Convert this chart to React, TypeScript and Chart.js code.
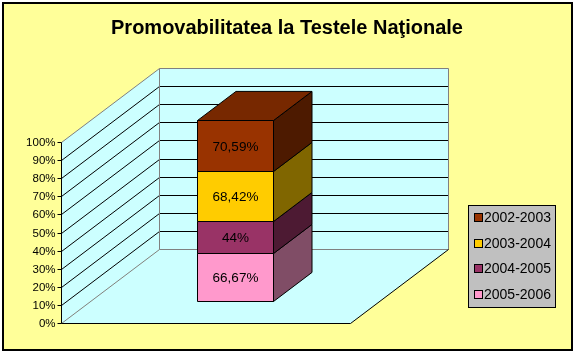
import React, { useEffect, useRef } from "react";
import { Chart, registerables } from "chart.js";

Chart.register(...registerables);

const TITLE = "Promovabilitatea la Testele Naţionale";
const CATEGORIES = ["Promovabilitate"];
// legend order (top of stack first)
const SERIES_NAMES = ["2002-2003", "2003-2004", "2004-2005", "2005-2006"];
const SERIES_VALUES = [70.59, 68.42, 44, 66.67];
const SERIES_COLORS = ["#993300", "#FFCC00", "#993366", "#FF99CC"];
const Y_TICK_STEP = 10;

const FONT = "'Liberation Sans', Arial, sans-serif";
const DX = 98;
const DY = -74;
const BAR_FRONT = 0.297;
const BAR_BACK = 0.69;
const WALL = "#CCFFFF";
const GRAY = "#808080";

function shade(hex: string, f: number) {
  const n = parseInt(hex.slice(1), 16);
  const r = Math.round(((n >> 16) & 255) * f);
  const g = Math.round(((n >> 8) & 255) * f);
  const b = Math.round((n & 255) * f);
  return `rgb(${r},${g},${b})`;
}

const fmt = (v: number) => String(v).replace(".", ",") + "%";

function poly(ctx: CanvasRenderingContext2D, pts: number[][], fill?: string, stroke?: string) {
  ctx.beginPath();
  ctx.moveTo(pts[0][0], pts[0][1]);
  for (let i = 1; i < pts.length; i++) ctx.lineTo(pts[i][0], pts[i][1]);
  ctx.closePath();
  if (fill) {
    ctx.fillStyle = fill;
    ctx.fill();
  }
  if (stroke) {
    ctx.strokeStyle = stroke;
    ctx.lineWidth = 1;
    ctx.stroke();
  }
}

function line(ctx: CanvasRenderingContext2D, pts: number[][], color: string) {
  ctx.beginPath();
  ctx.moveTo(pts[0][0], pts[0][1]);
  for (let i = 1; i < pts.length; i++) ctx.lineTo(pts[i][0], pts[i][1]);
  ctx.strokeStyle = color;
  ctx.lineWidth = 1;
  ctx.stroke();
}

const threeD = {
  id: "threeD",
  beforeDraw(chart: any) {
    const ctx = chart.ctx as CanvasRenderingContext2D;
    ctx.save();
    ctx.fillStyle = "#FFFFFF";
    ctx.fillRect(0, 0, chart.width, chart.height);
    ctx.fillStyle = "#FFFF99";
    ctx.fillRect(3, 3, 569, 347);
    ctx.strokeStyle = "#000000";
    ctx.lineWidth = 2;
    ctx.strokeRect(3, 3, 569, 347);
    // title
    ctx.fillStyle = "#000000";
    ctx.font = `bold 20px ${FONT}`;
    ctx.textAlign = "center";
    ctx.textBaseline = "alphabetic";
    ctx.fillText(TITLE, 287, 33.5);
    ctx.restore();
  },
  beforeDatasetsDraw(chart: any) {
    const ctx = chart.ctx as CanvasRenderingContext2D;
    const ys = chart.scales.y;
    const L = Math.round(chart.chartArea.left) + 0.5;
    const R = Math.round(chart.chartArea.right) + 0.5;
    const py = (v: number) => Math.round(ys.getPixelForValue(v)) + 0.5;
    const y0 = py(ys.min);
    const yT = py(ys.max);
    ctx.save();
    // walls
    poly(ctx, [[L, y0], [L, yT], [L + DX, yT + DY], [L + DX, y0 + DY]], WALL);
    poly(ctx, [[L + DX, yT + DY], [R + DX, yT + DY], [R + DX, y0 + DY], [L + DX, y0 + DY]], WALL);
    poly(ctx, [[L, y0], [R, y0], [R + DX, y0 + DY], [L + DX, y0 + DY]], WALL);
    // gridlines
    ys.ticks.forEach((t: any) => {
      if (t.value <= ys.min || t.value >= ys.max) return;
      const p = py(t.value);
      line(ctx, [[L, p], [L + DX, p + DY], [R + DX, p + DY]], "#000000");
    });
    // gray edges
    line(ctx, [[L, yT], [L + DX, yT + DY], [R + DX, yT + DY], [R + DX, y0 + DY], [L + DX, y0 + DY], [L + DX, yT + DY]], GRAY);
    line(ctx, [[L, y0], [L + DX, y0 + DY]], GRAY);
    // black edges
    line(ctx, [[R, y0], [R + DX, y0 + DY]], "#000000");
    line(ctx, [[L, yT], [L, y0], [R, y0]], "#000000");
    // y ticks + labels
    ctx.fillStyle = "#000000";
    ctx.font = `11.5px ${FONT}`;
    ctx.textAlign = "right";
    ctx.textBaseline = "middle";
    ys.ticks.forEach((t: any) => {
      const p = py(t.value);
      line(ctx, [[L - 4, p], [L, p]], "#000000");
      ctx.fillText(t.label, L - 6, p + 0.5);
    });

    // bars
    const fx = DX * BAR_FRONT;
    const fy = DY * BAR_FRONT;
    const bx = DX * (BAR_BACK - BAR_FRONT);
    const by = DY * (BAR_BACK - BAR_FRONT);
    const n = chart.data.datasets.length;
    for (let di = 0; di < n; di++) {
      const ds = chart.data.datasets[di];
      const meta = chart.getDatasetMeta(di);
      meta.data.forEach((el: any) => {
        const props = el.getProps(["x", "y", "base", "width"], true);
        const xl = Math.round(props.x - props.width / 2 + fx) + 0.5;
        const xr = Math.round(props.x + props.width / 2 + fx) + 0.5;
        const yt = Math.round(props.y + fy) + 0.5;
        const yb = Math.round(props.base + fy) + 0.5;
        const col = ds.backgroundColor as string;
        poly(ctx, [[xl, yt], [xr, yt], [xr, yb], [xl, yb]], col, "#000000");
        poly(ctx, [[xr, yt], [xr + bx, yt + by], [xr + bx, yb + by], [xr, yb]], shade(col, 0.5), "#000000");
        if (di === n - 1) {
          poly(ctx, [[xl, yt], [xr, yt], [xr + bx, yt + by], [xl + bx, yt + by]], shade(col, 0.78), "#000000");
        }
        ctx.fillStyle = "#000000";
        ctx.font = `13.5px ${FONT}`;
        ctx.textAlign = "center";
        ctx.textBaseline = "middle";
        ctx.fillText(fmt(ds.raw[0]), (xl + xr) / 2, (yt + yb) / 2 + 1);
      });
    }

    // legend (top of stack first)
    const lx = 468.5, ly = 205.5, lw = 87, lh = 102;
    ctx.fillStyle = "#C0C0C0";
    ctx.fillRect(lx, ly, lw, lh);
    ctx.strokeStyle = "#000000";
    ctx.lineWidth = 1;
    ctx.strokeRect(lx, ly, lw, lh);
    ctx.font = `14px ${FONT}`;
    ctx.textAlign = "left";
    ctx.textBaseline = "middle";
    for (let k = 0; k < n; k++) {
      const ds = chart.data.datasets[n - 1 - k];
      const cy = Math.round(218 + k * 25.5);
      ctx.fillStyle = ds.backgroundColor as string;
      ctx.fillRect(474.5, cy - 4.5, 8, 8);
      ctx.strokeRect(474.5, cy - 4.5, 8, 8);
      ctx.fillStyle = "#000000";
      ctx.fillText(ds.label, 484, cy + 0.5);
    }
    ctx.restore();
    return false;
  },
};

export default function App() {
  const ref = useRef<HTMLCanvasElement | null>(null);
  useEffect(() => {
    document.body.style.margin = "0";
    if (!ref.current) return;
    const total = SERIES_VALUES.reduce((a, b) => a + b, 0);
    // stack from bottom (last legend entry) to top (first legend entry)
    const datasets = SERIES_NAMES.map((name, i) => ({
      label: name,
      data: [(SERIES_VALUES[i] / total) * 100],
      raw: [SERIES_VALUES[i]],
      backgroundColor: SERIES_COLORS[i],
      categoryPercentage: 1,
      barPercentage: 0.263,
    })).reverse();
    const chart = new Chart(ref.current, {
      type: "bar",
      data: { labels: CATEGORIES, datasets: datasets as any },
      options: {
        animation: false,
        responsive: false,
        devicePixelRatio: 1,
        layout: { padding: { left: 61, top: 142, right: 226, bottom: 31 } },
        plugins: { legend: { display: false }, title: { display: false }, tooltip: { enabled: false } },
        scales: {
          x: { stacked: true, display: false },
          y: {
            stacked: true,
            display: false,
            min: 0,
            max: 100,
            ticks: { stepSize: Y_TICK_STEP, callback: (v: any) => v + "%" },
          },
        },
      },
      plugins: [threeD as any],
    });
    return () => chart.destroy();
  }, []);
  return (
    <div style={{ width: 576, height: 354 }}>
      <canvas ref={ref} width={576} height={354} style={{ display: "block" }} />
    </div>
  );
}
